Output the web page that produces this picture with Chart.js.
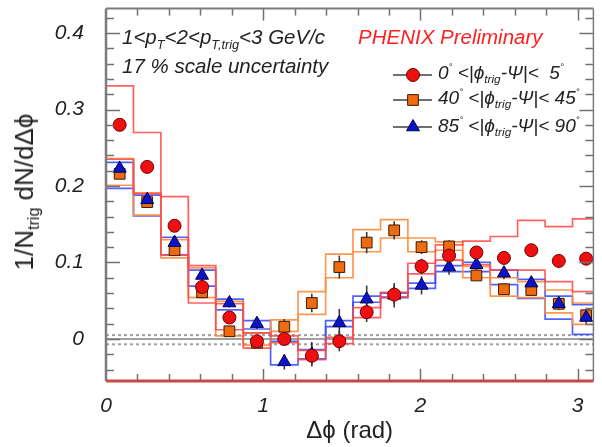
<!DOCTYPE html>
<html><head><meta charset="utf-8">
<script src="https://cdn.jsdelivr.net/npm/chart.js@4"></script>
<style>
html,body{margin:0;padding:0;background:#fff;}
#wrap{position:relative;width:602px;height:447px;overflow:hidden;font-family:"Liberation Sans",Arial,Helvetica,sans-serif;color:#222;}
canvas{position:absolute;left:0;top:0;}
.t{position:absolute;white-space:nowrap;font-style:italic;line-height:1;}
.t sub{font-size:62%;vertical-align:baseline;position:relative;top:0.38em;}
.t sup{font-size:50%;vertical-align:baseline;position:relative;top:-0.9em;}
#ytitle{position:absolute;left:24px;top:192px;transform:translate(-50%,-50%) rotate(-90deg);white-space:nowrap;font-size:26px;line-height:1;}
#ytitle sub{font-size:62%;vertical-align:baseline;position:relative;top:0.35em;}
</style></head>
<body>
<div id="wrap">
<canvas id="c" width="602" height="447"></canvas>
<div id="ytitle">1/N<sub>trig</sub> dN/dΔϕ</div>
<div class="t" style="left:122px;top:27px;font-size:20.5px;">1&lt;p<sub>T</sub>&lt;2&lt;p<sub>T,trig</sub>&lt;3 GeV/c</div>
<div class="t" style="left:122px;top:56px;font-size:20.5px;">17 % scale uncertainty</div>
<div class="t" style="left:358px;top:27px;font-size:20.5px;color:#ff2020;">PHENIX Preliminary</div>
<div class="t" style="left:438px;top:63px;font-size:19px;">0<sup>°</sup> &lt;|ϕ<sub>trig</sub>-Ψ|&lt;&nbsp; 5<sup>°</sup></div>
<div class="t" style="left:438px;top:88px;font-size:19px;">40<sup>°</sup> &lt;|ϕ<sub>trig</sub>-Ψ|&lt; 45<sup>°</sup></div>
<div class="t" style="left:438px;top:116px;font-size:19px;">85<sup>°</sup> &lt;|ϕ<sub>trig</sub>-Ψ|&lt; 90<sup>°</sup></div>
</div>
<script>
// ---- data ----
const dphi = [0.087,0.262,0.436,0.611,0.785,0.960,1.134,1.309,1.484,1.658,1.833,2.007,2.182,2.356,2.531,2.705,2.880,3.054];
const binHalfWidth = 0.087;

const red0 = [0.280,0.225,0.148,0.068,0.028,-0.003,0.000,-0.022,-0.003,0.035,0.058,0.095,0.109,0.113,0.106,0.116,0.102,0.105];
const redStat = [0.005,0.005,0.005,0.005,0.005,0.006,0.008,0.012,0.013,0.013,0.012,0.010,0.008,0.006,0.006,0.006,0.006,0.006];
const redSysHi = [0.331,0.270,0.186,0.096,0.046,0.008,0.004,-0.015,0.002,0.041,0.061,0.099,0.123,0.128,0.134,0.155,0.147,0.157];
const redSysLo = [0.235,0.190,0.110,0.047,0.012,-0.012,-0.005,-0.027,-0.006,0.028,0.055,0.085,0.103,0.097,0.090,0.090,0.075,0.062];

const org40 = [0.216,0.179,0.116,0.061,0.010,-0.005,0.016,0.047,0.094,0.126,0.142,0.120,0.121,0.083,0.065,0.064,0.046,0.031];
const orgStat = [0.004,0.004,0.004,0.005,0.005,0.006,0.010,0.012,0.015,0.014,0.012,0.009,0.008,0.006,0.006,0.006,0.006,0.006];
const orgSysHi = [0.236,0.191,0.130,0.093,0.049,0.008,0.025,0.062,0.111,0.143,0.156,0.132,0.127,0.095,0.080,0.075,0.064,0.047];
const orgSysLo = [0.201,0.162,0.106,0.054,0.004,-0.008,0.010,0.032,0.080,0.114,0.132,0.114,0.116,0.080,0.056,0.054,0.034,0.019];

const blu85 = [0.223,0.182,0.126,0.083,0.047,0.020,-0.030,-0.020,0.021,0.052,0.057,0.070,0.094,0.097,0.086,0.073,0.046,0.028];
const bluStat = [0.005,0.005,0.005,0.006,0.006,0.007,0.010,0.016,0.018,0.018,0.016,0.012,0.010,0.008,0.008,0.008,0.008,0.008];
const bluSysHi = [0.231,0.188,0.133,0.090,0.052,0.024,-0.003,-0.014,0.024,0.056,0.060,0.073,0.096,0.100,0.090,0.078,0.056,0.045];
const bluSysLo = [0.197,0.161,0.110,0.069,0.038,0.013,-0.034,-0.026,0.016,0.048,0.054,0.066,0.088,0.088,0.071,0.053,0.026,0.006];

const xTicks = [0,1,2,3];
const yTicks = [0,0.1,0.2,0.3,0.4];
const zeroBand = [0.005,-0.007];

// ---- helpers building library datasets ----
function steps(v){
  const out=[];
  dphi.forEach((c,i)=>{ out.push({x:c-binHalfWidth,y:v[i]},{x:c+binHalfWidth,y:v[i]}); });
  return out;
}
function errs(v, e){
  const out=[];
  dphi.forEach((c,i)=>{ out.push({x:c,y:v[i]-e[i]},{x:c,y:v[i]+e[i]},{x:c,y:null}); });
  return out;
}
function pts(v){ return dphi.map((c,i)=>({x:c,y:v[i]})); }

const RED='#ee1010', ORG='#f06a10', BLU='#0a14c8';
const RBAND='rgba(255,70,70,0.85)', OBAND='rgba(255,140,60,0.9)', BBAND='rgba(50,70,255,0.85)';
const stepDs=(data,color)=>({type:'line',data,borderColor:color,borderWidth:1.7,pointRadius:0,spanGaps:false,fill:false,order:10});
const errDs=(data)=>({type:'line',data,borderColor:'#3a3a3a',borderWidth:1.6,pointRadius:0,spanGaps:false,fill:false,order:5});
const markDs=(data,style,fill,border,r)=>({type:'line',data,showLine:false,pointStyle:style,pointRadius:r,pointBackgroundColor:fill,pointBorderColor:border,pointBorderWidth:1,order:1});

const axesPlugin = {
  id:'axesPlugin',
  beforeDatasetsDraw(chart){
    const {ctx, chartArea:a, scales:{x,y}} = chart;
    ctx.save();
    ctx.strokeStyle='#a0a0a0'; ctx.lineWidth=2; ctx.setLineDash([3,3]);
    zeroBand.forEach(v=>{const p=y.getPixelForValue(v); ctx.beginPath(); ctx.moveTo(a.left,p); ctx.lineTo(a.right,p); ctx.stroke();});
    ctx.setLineDash([]); ctx.strokeStyle='#808080'; ctx.lineWidth=1.6;
    const p0=y.getPixelForValue(0); ctx.beginPath(); ctx.moveTo(a.left,p0); ctx.lineTo(a.right,p0); ctx.stroke();
    ctx.restore();
  },
  afterDraw(chart){
    const {ctx, chartArea:a, scales:{x,y}} = chart;
    ctx.save();
    ctx.strokeStyle='#707070'; ctx.lineWidth=1.5;
    for(let k=-2;k<=21;k++){
      const v=k*0.02; if(v<y.min||v>y.max) continue;
      const p=Math.round(y.getPixelForValue(v))+0.5;
      const len=(k%5===0)?14:8;
      ctx.beginPath(); ctx.moveTo(a.left,p); ctx.lineTo(a.left+len,p); ctx.stroke();
      ctx.beginPath(); ctx.moveTo(a.right,p); ctx.lineTo(a.right-len,p); ctx.stroke();
    }
    for(let k=1;k<=15;k++){
      const v=k*0.2; if(v>x.max) continue;
      const p=Math.round(x.getPixelForValue(v))+0.5;
      const len=(k%5===0)?12:7;
      ctx.beginPath(); ctx.moveTo(p,a.bottom); ctx.lineTo(p,a.bottom-len); ctx.stroke();
      ctx.beginPath(); ctx.moveTo(p,a.top); ctx.lineTo(p,a.top+len); ctx.stroke();
    }
    ctx.strokeStyle='#7c7c7c';
    ctx.lineWidth=2.5; ctx.beginPath(); ctx.moveTo(a.left,a.top); ctx.lineTo(a.left,a.bottom); ctx.stroke();
    ctx.lineWidth=2; ctx.beginPath(); ctx.moveTo(a.left,a.top); ctx.lineTo(a.right,a.top); ctx.stroke();
    ctx.lineWidth=1.5; ctx.beginPath(); ctx.moveTo(a.right,a.top); ctx.lineTo(a.right,a.bottom); ctx.stroke();
    ctx.strokeStyle='#c84848'; ctx.lineWidth=3; ctx.beginPath(); ctx.moveTo(a.left,a.bottom); ctx.lineTo(a.right,a.bottom); ctx.stroke();
    const rows=[[75,'circle',RED,'#700000',6.5],[100,'rect',ORG,'#3a1a00',7.6],[127,'triangle',BLU,'#000050',7.5]];
    rows.forEach(([py,st,f,b,r])=>{
      ctx.strokeStyle='#707070'; ctx.lineWidth=2; ctx.beginPath(); ctx.moveTo(393,py); ctx.lineTo(432,py); ctx.stroke();
      ctx.fillStyle=f; ctx.strokeStyle=b; ctx.lineWidth=1;
      Chart.helpers.drawPoint(ctx,{pointStyle:st,radius:r,rotation:0,borderWidth:1},413,py);
    });
    ctx.restore();
  }
};

const tickFont={family:'"Liberation Sans", Arial, sans-serif',size:21,style:'italic'};

new Chart(document.getElementById('c'),{
  data:{datasets:[
    stepDs(steps(redSysHi),RBAND), stepDs(steps(redSysLo),RBAND),
    stepDs(steps(orgSysHi),OBAND), stepDs(steps(orgSysLo),OBAND),
    stepDs(steps(bluSysHi),BBAND), stepDs(steps(bluSysLo),BBAND),
    errDs(errs(red0,redStat)),
    errDs(errs(org40,orgStat)),
    errDs(errs(blu85,bluStat)),
    markDs(pts(red0),'circle',RED,'#700000',6.5),
    markDs(pts(blu85),'triangle',BLU,'#000050',7.5),
    markDs(pts(org40),'rect',ORG,'#3a1a00',7.6)
  ]},
  options:{
    responsive:false, animation:false, devicePixelRatio:1,
    layout:{padding:{left:0,right:4,top:5,bottom:0}},
    plugins:{legend:{display:false},tooltip:{enabled:false}},
    scales:{
      x:{type:'linear',min:0,max:3.1,
        afterFit(s){s.height=66;s.paddingLeft=0;s.paddingRight=0;},
        afterBuildTicks(s){s.ticks=xTicks.map(v=>({value:v}));},
        grid:{display:false},border:{display:false},
        ticks:{font:tickFont,color:'#222',padding:5,maxRotation:0,callback:v=>String(v)},
        title:{display:true,text:'Δϕ (rad)',font:{family:'"Liberation Sans", Arial, sans-serif',size:24},color:'#222',padding:{top:0,bottom:1}}
      },
      y:{type:'linear',min:-0.055,max:0.432,
        afterFit(s){s.width=106;s.paddingTop=0;s.paddingBottom=0;},
        afterBuildTicks(s){s.ticks=yTicks.map(v=>({value:v}));},
        grid:{display:false},border:{display:false},
        ticks:{font:tickFont,color:'#222',padding:14,callback:v=>(v===0?'0':v.toFixed(1))}
      }
    }
  },
  plugins:[axesPlugin]
});
</script>
</body></html>
